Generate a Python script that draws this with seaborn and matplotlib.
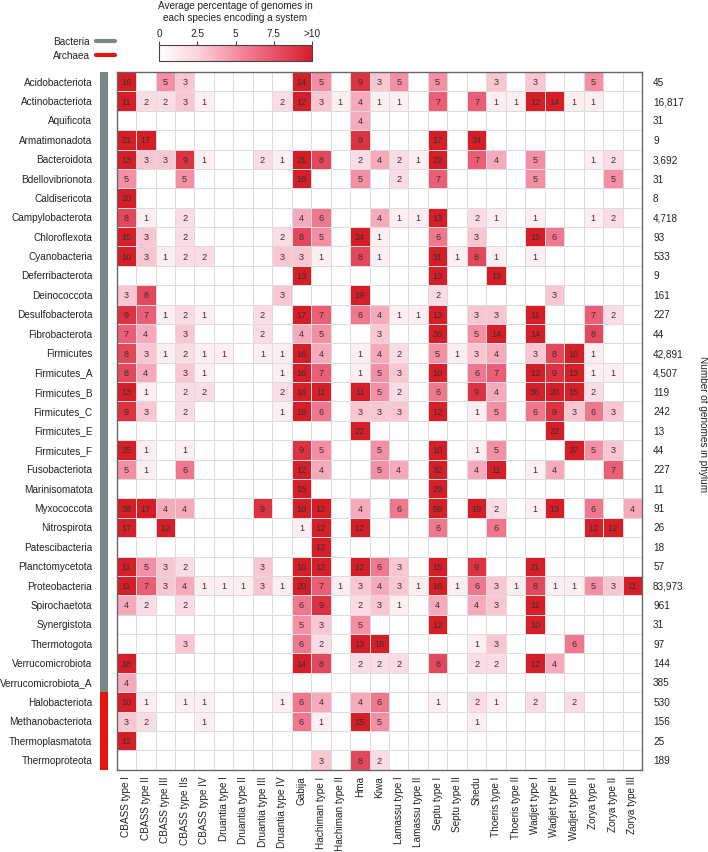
import numpy as np
import pandas as pd
import matplotlib
matplotlib.use("Agg")
import matplotlib.pyplot as plt
from matplotlib.colors import LinearSegmentedColormap, ListedColormap
from matplotlib.lines import Line2D
import seaborn as sns

# ---------------------------------------------------------
# Data
# ---------------------------------------------------------
systems = ["CBASS type I", "CBASS type II", "CBASS type III", "CBASS type IIs", "CBASS type IV",
           "Druantia type I", "Druantia type II", "Druantia type III", "Druantia type IV",
           "Gabija", "Hachiman type I", "Hachiman type II", "Hma", "Kiwa",
           "Lamassu type I", "Lamassu type II", "Septu type I", "Septu type II", "Shedu",
           "Thoeris type I", "Thoeris type II", "Wadjet type I", "Wadjet type II",
           "Wadjet type III", "Zorya type I", "Zorya type II", "Zorya type III"]

bacteria_phyla = ["Acidobacteriota", "Actinobacteriota", "Aquificota", "Armatimonadota",
                  "Bacteroidota", "Bdellovibrionota", "Caldisericota", "Campylobacterota",
                  "Chloroflexota", "Cyanobacteria", "Deferribacterota", "Deinococcota",
                  "Desulfobacterota", "Fibrobacterota", "Firmicutes", "Firmicutes_A",
                  "Firmicutes_B", "Firmicutes_C", "Firmicutes_E", "Firmicutes_F",
                  "Fusobacteriota", "Marinisomatota", "Myxococcota", "Nitrospirota",
                  "Patescibacteria", "Planctomycetota", "Proteobacteria", "Spirochaetota",
                  "Synergistota", "Thermotogota", "Verrucomicrobiota", "Verrucomicrobiota_A"]
archaea_phyla = ["Halobacteriota", "Methanobacteriota", "Thermoplasmatota", "Thermoproteota"]

# percentage per phylum (rows) and system (columns), 0 = not found
bacteria_pct = [
    [16, 0, 5, 3, 0, 0, 0, 0, 0, 14, 5, 0, 9, 3, 5, 0, 5, 0, 0, 3, 0, 3, 0, 0, 5, 0, 0],
    [11, 2, 2, 3, 1, 0, 0, 0, 2, 12, 3, 1, 4, 1, 1, 0, 7, 0, 7, 1, 1, 12, 14, 1, 1, 0, 0],
    [0, 0, 0, 0, 0, 0, 0, 0, 0, 0, 0, 0, 4, 0, 0, 0, 0, 0, 0, 0, 0, 0, 0, 0, 0, 0, 0],
    [21, 17, 0, 0, 0, 0, 0, 0, 0, 0, 0, 0, 9, 0, 0, 0, 17, 0, 34, 0, 0, 0, 0, 0, 0, 0, 0],
    [13, 3, 3, 9, 1, 0, 0, 2, 1, 21, 8, 0, 2, 4, 2, 1, 22, 0, 7, 4, 0, 5, 0, 0, 1, 2, 0],
    [5, 0, 0, 5, 0, 0, 0, 0, 0, 16, 0, 0, 5, 0, 2, 0, 7, 0, 0, 0, 0, 5, 0, 0, 0, 5, 0],
    [20, 0, 0, 0, 0, 0, 0, 0, 0, 0, 0, 0, 0, 0, 0, 0, 0, 0, 0, 0, 0, 0, 0, 0, 0, 0, 0],
    [8, 1, 0, 2, 0, 0, 0, 0, 0, 4, 6, 0, 0, 4, 1, 1, 13, 0, 2, 1, 0, 1, 0, 0, 1, 2, 0],
    [15, 3, 0, 2, 0, 0, 0, 0, 2, 8, 5, 0, 24, 1, 0, 0, 6, 0, 3, 0, 0, 15, 6, 0, 0, 0, 0],
    [10, 3, 1, 2, 2, 0, 0, 0, 3, 3, 1, 0, 8, 1, 0, 0, 31, 1, 8, 1, 0, 1, 0, 0, 0, 0, 0],
    [0, 0, 0, 0, 0, 0, 0, 0, 0, 13, 0, 0, 0, 0, 0, 0, 13, 0, 0, 13, 0, 0, 0, 0, 0, 0, 0],
    [3, 8, 0, 0, 0, 0, 0, 0, 3, 0, 0, 0, 19, 0, 0, 0, 2, 0, 0, 0, 0, 0, 3, 0, 0, 0, 0],
    [9, 7, 1, 2, 1, 0, 0, 2, 0, 17, 7, 0, 6, 4, 1, 1, 13, 0, 3, 3, 0, 11, 0, 0, 7, 2, 0],
    [7, 4, 0, 3, 0, 0, 0, 2, 0, 4, 5, 0, 0, 3, 0, 0, 36, 0, 5, 14, 0, 14, 0, 0, 8, 0, 0],
    [8, 3, 1, 2, 1, 1, 0, 1, 1, 16, 4, 0, 1, 4, 2, 0, 5, 1, 3, 4, 0, 3, 8, 10, 1, 0, 0],
    [8, 4, 0, 3, 1, 0, 0, 0, 1, 16, 7, 0, 1, 5, 3, 0, 10, 0, 6, 7, 0, 12, 9, 13, 1, 1, 0],
    [13, 1, 0, 2, 2, 0, 0, 0, 2, 16, 11, 0, 11, 5, 2, 0, 6, 0, 9, 4, 0, 36, 20, 15, 2, 0, 0],
    [9, 3, 0, 2, 0, 0, 0, 0, 1, 16, 6, 0, 3, 3, 3, 0, 12, 0, 1, 5, 0, 6, 9, 3, 6, 3, 0],
    [0, 0, 0, 0, 0, 0, 0, 0, 0, 0, 0, 0, 22, 0, 0, 0, 0, 0, 0, 0, 0, 0, 22, 0, 0, 0, 0],
    [25, 1, 0, 1, 0, 0, 0, 0, 0, 9, 5, 0, 0, 5, 0, 0, 10, 0, 1, 5, 0, 0, 0, 37, 5, 3, 0],
    [5, 1, 0, 6, 0, 0, 0, 0, 0, 12, 4, 0, 0, 5, 4, 0, 32, 0, 4, 11, 0, 1, 4, 0, 0, 7, 0],
    [0, 0, 0, 0, 0, 0, 0, 0, 0, 15, 0, 0, 0, 0, 0, 0, 29, 0, 0, 0, 0, 0, 0, 0, 0, 0, 0],
    [38, 17, 4, 4, 0, 0, 0, 9, 0, 10, 12, 0, 4, 0, 6, 0, 59, 0, 19, 2, 0, 1, 13, 0, 6, 0, 4],
    [17, 0, 12, 0, 0, 0, 0, 0, 0, 1, 12, 0, 12, 0, 0, 0, 6, 0, 0, 6, 0, 0, 0, 0, 12, 12, 0],
    [0, 0, 0, 0, 0, 0, 0, 0, 0, 0, 12, 0, 0, 0, 0, 0, 0, 0, 0, 0, 0, 0, 0, 0, 0, 0, 0],
    [11, 5, 3, 2, 0, 0, 0, 3, 0, 10, 12, 0, 12, 6, 3, 0, 15, 0, 9, 0, 0, 21, 0, 0, 0, 0, 0],
    [11, 7, 3, 4, 1, 1, 1, 3, 1, 20, 7, 1, 3, 4, 3, 1, 16, 1, 6, 3, 1, 8, 1, 1, 5, 3, 11],
    [4, 2, 0, 2, 0, 0, 0, 0, 0, 6, 9, 0, 2, 3, 1, 0, 4, 0, 4, 3, 0, 11, 0, 0, 0, 0, 0],
    [0, 0, 0, 0, 0, 0, 0, 0, 0, 5, 3, 0, 5, 0, 0, 0, 12, 0, 0, 0, 0, 10, 0, 0, 0, 0, 0],
    [0, 0, 0, 3, 0, 0, 0, 0, 0, 6, 2, 0, 13, 18, 0, 0, 0, 0, 1, 3, 0, 0, 0, 6, 0, 0, 0],
    [18, 0, 0, 0, 0, 0, 0, 0, 0, 14, 8, 0, 2, 2, 2, 0, 8, 0, 2, 2, 0, 12, 4, 0, 0, 0, 0],
    [4, 0, 0, 0, 0, 0, 0, 0, 0, 0, 0, 0, 0, 0, 0, 0, 0, 0, 0, 0, 0, 0, 0, 0, 0, 0, 0],
]
archaea_pct = [
    [10, 1, 0, 1, 1, 0, 0, 0, 1, 6, 4, 0, 4, 6, 0, 0, 1, 0, 2, 1, 0, 2, 0, 2, 0, 0, 0],
    [3, 2, 0, 0, 1, 0, 0, 0, 0, 6, 1, 0, 15, 5, 0, 0, 0, 0, 1, 0, 0, 0, 0, 0, 0, 0, 0],
    [12, 0, 0, 0, 0, 0, 0, 0, 0, 0, 0, 0, 0, 0, 0, 0, 0, 0, 0, 0, 0, 0, 0, 0, 0, 0, 0],
    [0, 0, 0, 0, 0, 0, 0, 0, 0, 0, 3, 0, 8, 2, 0, 0, 0, 0, 0, 0, 0, 0, 0, 0, 0, 0, 0],
]

bacteria_genomes = [45, 16817, 31, 9, 3692, 31, 8, 4718, 93, 533, 9, 161, 227, 44, 42891,
                    4507, 119, 242, 13, 44, 227, 11, 91, 26, 18, 57, 83973, 961, 31, 97,
                    144, 385]
archaea_genomes = [530, 156, 25, 189]

# ---------------------------------------------------------
# Build tables
# ---------------------------------------------------------
phyla = bacteria_phyla + archaea_phyla
df = pd.DataFrame(bacteria_pct + archaea_pct, index=phyla, columns=systems)
annot = df.map(lambda v: "" if v == 0 else str(v))
genomes = bacteria_genomes + archaea_genomes
domain = pd.DataFrame({"domain": [0] * len(bacteria_phyla) + [1] * len(archaea_phyla)},
                      index=phyla)

# ---------------------------------------------------------
# Figure
# ---------------------------------------------------------
sns.set_style("white")
plt.rcParams["font.family"] = ["Liberation Sans", "DejaVu Sans"]
plt.rcParams["font.size"] = 7.2
plt.rcParams["text.color"] = "#222222"
plt.rcParams["xtick.color"] = "#222222"
plt.rcParams["ytick.color"] = "#222222"

W, H = 708, 853
fig = plt.figure(figsize=(W / 100, H / 100), dpi=100)

grid_left, grid_right, grid_top, grid_bottom = 116.6, 642, 73, 770.7
ax = fig.add_axes([grid_left / W, 1 - grid_bottom / H,
                   (grid_right - grid_left) / W, (grid_bottom - grid_top) / H])
cax = fig.add_axes([159 / W, 1 - 61.7 / H, 153 / W, 16 / H])
sax = fig.add_axes([100 / W, 1 - grid_bottom / H, 8 / W, (grid_bottom - grid_top) / H])

reds = LinearSegmentedColormap.from_list(
    "pct", ["#ffffff", "#fbd3dd", "#f48fa6", "#e8526a", "#d61e29"])

sns.heatmap(df, ax=ax, cmap=reds, vmin=0, vmax=10, annot=annot, fmt="",
            annot_kws={"fontsize": 6.6, "color": "#333333"},
            linewidths=0.6, linecolor="#dcdcdc",
            cbar_ax=cax, cbar_kws={"orientation": "horizontal", "ticks": [0, 2.5, 5, 7.5, 10]},
            xticklabels=systems, yticklabels=False)
ax.tick_params(axis="x", length=0, pad=4, labelrotation=90)
for s in ax.spines.values():
    s.set_visible(True)
    s.set_color("#666666")
    s.set_linewidth(1.0)

# genome counts on the right
for i, n in enumerate(genomes):
    ax.text(len(systems) + 0.57, i + 0.5, f"{n:,}", ha="left", va="center",
            fontsize=7.2, clip_on=False)
fig.text(703 / W, 1 - 424 / H, "Number of genomes in phylum", rotation=-90,
         ha="center", va="center", fontsize=7.2)

# domain strip with phylum labels
sns.heatmap(domain, ax=sax, cmap=ListedColormap(["#7b8686", "#e3170f"]), vmin=0, vmax=1,
            cbar=False, xticklabels=False, yticklabels=phyla)
sax.tick_params(axis="y", length=0, pad=5.5, labelrotation=0)
sax.set_ylabel("")

# colorbar styling
cbar = ax.collections[0].colorbar
cbar.outline.set_edgecolor("#444444")
cbar.outline.set_linewidth(0.8)
cax.xaxis.set_ticks_position("top")
cax.set_xticklabels(["0", "2.5", "5", "7.5", ">10"])
cax.tick_params(axis="x", length=3, width=0.8, pad=1.5, color="#444444", labelsize=7.2)
fig.text(235.5 / W, 1 - 12 / H, "Average percentage of genomes in\neach species encoding a system",
         ha="center", va="center", fontsize=7.2, linespacing=1.15)

# domain legend
for label, color, y in [("Bacteria", "#7b8686", 42), ("Archaea", "#e3170f", 56)]:
    fig.text(90 / W, 1 - y / H, label, ha="right", va="center", fontsize=7.2)
    fig.add_artist(Line2D([95.5 / W, 114.5 / W], [1 - y / H, 1 - y / H],
                          color=color, linewidth=3, transform=fig.transFigure))

fig.savefig("out.png", dpi=100)
plt.close()
